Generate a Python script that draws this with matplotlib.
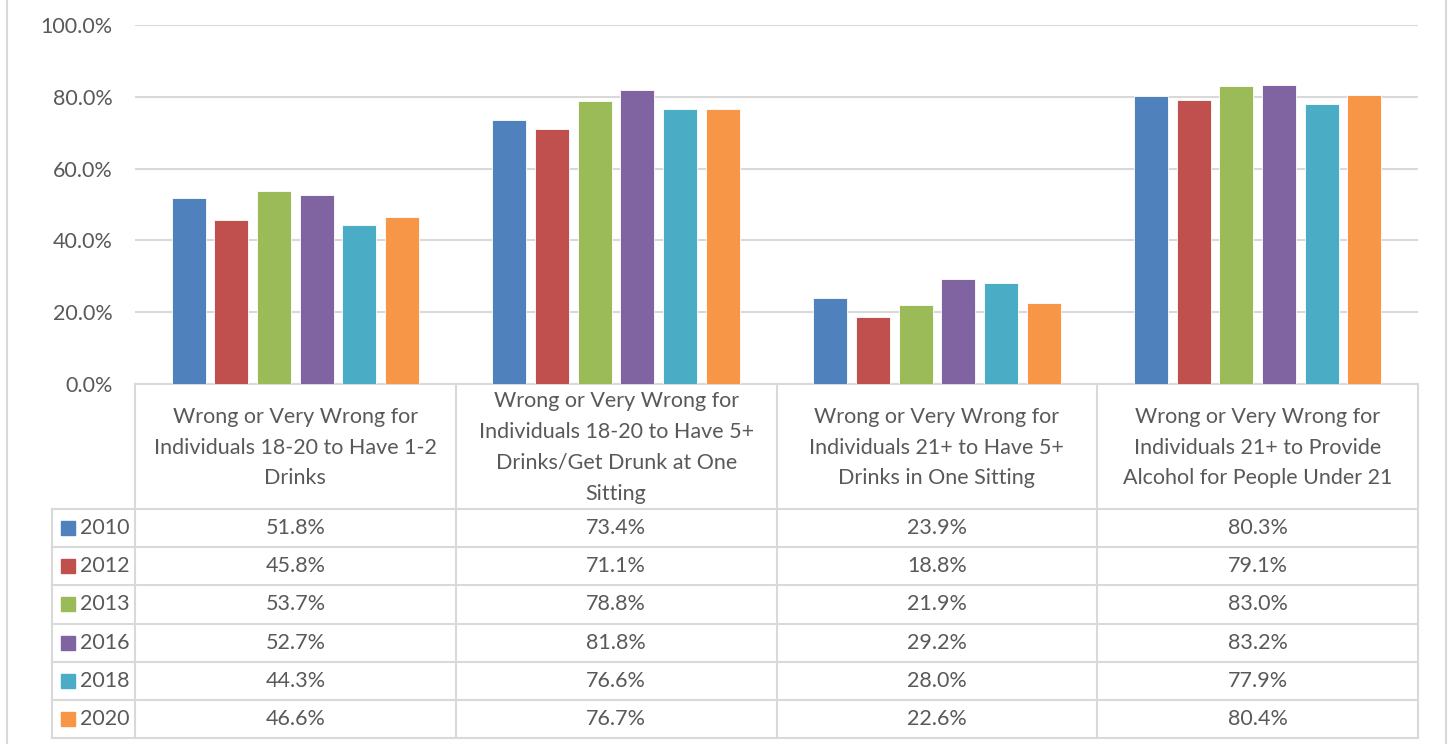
import numpy as np
from matplotlib import pyplot as plt
from matplotlib.patches import Rectangle
from matplotlib.ticker import PercentFormatter

categories = [
    "Wrong or Very Wrong for\nIndividuals 18-20 to Have 1-2\nDrinks",
    "Wrong or Very Wrong for\nIndividuals 18-20 to Have 5+\nDrinks/Get Drunk at One\nSitting",
    "Wrong or Very Wrong for\nIndividuals 21+ to Have 5+\nDrinks in One Sitting",
    "Wrong or Very Wrong for\nIndividuals 21+ to Provide\nAlcohol for People Under 21",
]
years = ["2010", "2012", "2013", "2016", "2018", "2020"]
values = {
    "2010": [51.8, 73.4, 23.9, 80.3],
    "2012": [45.8, 71.1, 18.8, 79.1],
    "2013": [53.7, 78.8, 21.9, 83.0],
    "2016": [52.7, 81.8, 29.2, 83.2],
    "2018": [44.3, 76.6, 28.0, 77.9],
    "2020": [46.6, 76.7, 22.6, 80.4],
}
colors = ["#4F81BD", "#C0504D", "#9BBB59", "#8064A2", "#4BACC6", "#F79646"]

W, H = 1448, 744
plt.rcParams['font.family'] = ['Lato', 'DejaVu Sans']
txt = "#595959"
grid = "#d9d9d9"
fs = 15.5

fig = plt.figure(figsize=(W / 100, H / 100), dpi=100)


def fx(x):
    return x / W


def fy(y):
    return 1 - y / H


# plot area in pixels
left, right, top, bottom = 135, 1418, 25, 384
ax = fig.add_axes([fx(left), fy(bottom), fx(right - left), (bottom - top) / H])

n = len(years)
slot = 0.133
bw = 0.106
x = np.arange(len(categories))
for i, yr in enumerate(years):
    ax.bar(x + (i - (n - 1) / 2) * slot, values[yr], width=bw, color=colors[i],
           edgecolor="white", linewidth=0.6, zorder=3)

ax.set_xlim(-0.5, len(categories) - 0.5)
ax.set_ylim(0, 100)
ax.set_yticks(np.arange(0, 101, 20))
ax.yaxis.set_major_formatter(PercentFormatter(decimals=1))
ax.tick_params(axis='y', length=0, labelsize=fs, labelcolor=txt, pad=16)
ax.set_xticks([])
ax.grid(axis='y', color=grid, linewidth=1.5, zorder=0)
for s in ["left", "right", "top"]:
    ax.spines[s].set_visible(False)
ax.spines["bottom"].set_color(grid)
ax.spines["bottom"].set_linewidth(1.5)

# data table drawn below the plot area
col_edges = [left + k * (right - left) / len(categories) for k in range(len(categories) + 1)]
leg_left = 52
head_bot = 509
row_h = (738 - head_bot) / n
row_edges = [head_bot + k * row_h for k in range(n + 1)]


def hline(y, x0, x1):
    fig.add_artist(plt.Line2D([fx(x0), fx(x1)], [fy(y), fy(y)], color=grid, lw=1.5))


def vline(x0, y0, y1):
    fig.add_artist(plt.Line2D([fx(x0), fx(x0)], [fy(y0), fy(y1)], color=grid, lw=1.5))


for ry in row_edges:
    hline(ry, leg_left, right)
vline(leg_left, head_bot, row_edges[-1])
for cx in col_edges:
    vline(cx, bottom, row_edges[-1])

for j, cat in enumerate(categories):
    cx = (col_edges[j] + col_edges[j + 1]) / 2
    fig.text(fx(cx), fy((bottom + head_bot) / 2 + 1), cat, ha="center", va="center",
             fontsize=fs, color=txt, linespacing=1.68)

for i, yr in enumerate(years):
    cy = (row_edges[i] + row_edges[i + 1]) / 2
    fig.add_artist(Rectangle((fx(61), fy(cy + 7)), 14 / W, 14 / H, color=colors[i],
                             transform=fig.transFigure))
    fig.text(fx(80), fy(cy), yr, ha="left", va="center", fontsize=fs, color=txt)
    for j in range(len(categories)):
        cx = (col_edges[j] + col_edges[j + 1]) / 2
        fig.text(fx(cx), fy(cy), f"{values[yr][j]:.1f}%", ha="center", va="center",
                 fontsize=fs, color=txt)

# chart frame
vline(7, 0, H)
vline(1446, 0, H)

fig.savefig("out.png", dpi=100)
